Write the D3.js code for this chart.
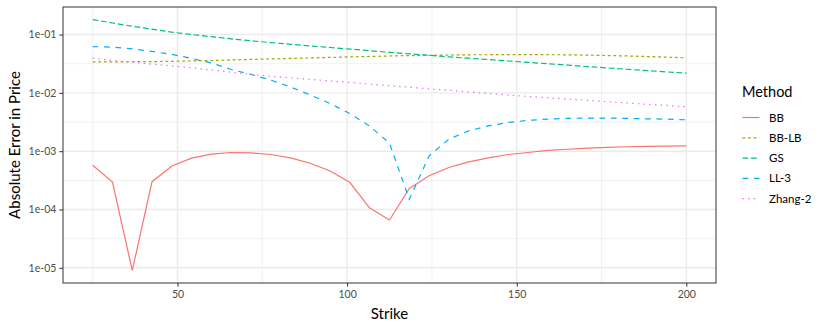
<!DOCTYPE html>
<html><head><meta charset="utf-8">
<script src="https://cdn.jsdelivr.net/npm/d3@7"></script>
<style>
body{margin:0;background:#fff;}
text{font-family:Lato,"Open Sans",sans-serif;}
</style></head>
<body><svg id="c" width="830" height="332"></svg>
<script>
const strikes = d3.range(31).map(i => 25 + i * 35 / 6);
const methods = ["BB", "BB-LB", "GS", "LL-3", "Zhang-2"];
const bb = [5.74e-4,2.96e-4,9.0e-6,3.0e-4,5.58e-4,7.58e-4,8.88e-4,9.5e-4,9.35e-4,8.77e-4,7.67e-4,6.22e-4,4.58e-4,2.90e-4,1.06e-4,6.59e-5,2.29e-4,3.79e-4,5.25e-4,6.55e-4,7.67e-4,8.77e-4,9.5e-4,1.03e-3,1.08e-3,1.13e-3,1.16e-3,1.19e-3,1.21e-3,1.22e-3,1.23e-3];
const bblb = [0.0339,0.0340,0.0342,0.0344,0.0347,0.0353,0.0359,0.0366,0.0375,0.0382,0.0390,0.0397,0.0406,0.0414,0.0422,0.0429,0.0436,0.0441,0.0446,0.0450,0.0451,0.0453,0.0453,0.0451,0.0450,0.0444,0.0437,0.0430,0.0420,0.0410,0.0399];
const gs = [0.181,0.158,0.139,0.124,0.110,0.100,0.0920,0.0843,0.0782,0.0728,0.0681,0.0639,0.0600,0.0564,0.0529,0.0496,0.0468,0.0441,0.0415,0.0393,0.0372,0.0352,0.0334,0.0316,0.0299,0.0283,0.0268,0.0254,0.0241,0.0229,0.0218];
const ll3 = [0.0622,0.0607,0.0568,0.0514,0.0457,0.0390,0.0326,0.0252,0.0207,0.0166,0.0126,9.19e-3,6.56e-3,4.42e-3,2.69e-3,1.37e-3,1.49e-4,8.30e-4,1.61e-3,2.23e-3,2.72e-3,3.12e-3,3.37e-3,3.55e-3,3.65e-3,3.70e-3,3.70e-3,3.65e-3,3.59e-3,3.55e-3,3.45e-3];
const zhang = [0.0393,0.0359,0.0334,0.0311,0.0291,0.0269,0.0247,0.0226,0.0208,0.0193,0.0181,0.0170,0.0160,0.0151,0.0141,0.0133,0.0125,0.0117,0.0111,0.0104,9.79e-3,9.19e-3,8.69e-3,8.26e-3,7.84e-3,7.45e-3,7.08e-3,6.72e-3,6.38e-3,6.08e-3,5.78e-3];
const xTicks = [50, 100, 150, 200];
const xMinor = [25, 75, 125, 175];
const yTicks = [1e-1, 1e-2, 1e-3, 1e-4, 1e-5];
const yTickLabels = ["1e-01", "1e-02", "1e-03", "1e-04", "1e-05"];
const yMinor = [Math.pow(10,-1.5), Math.pow(10,-2.5), Math.pow(10,-3.5), Math.pow(10,-4.5)];

const series = [bb, bblb, gs, ll3, zhang];
const colors = ["#F8766D", "#A3A500", "#00BF7D", "#00B0F6", "#E76BF3"];
const dashes = [null, "2.8,2.8", "5.7,2.8", "5.7,5.7", "1.4,4.3"];

const L = 63, R = 716, T = 7, B = 283;
const svg = d3.select("#c");

const xs = d3.extent(strikes);
const xpad = (xs[1] - xs[0]) * 0.05;
const x = d3.scaleLinear().domain([xs[0] - xpad, xs[1] + xpad]).range([L, R]);
const all = series.flat();
const lmin = Math.log10(d3.min(all)), lmax = Math.log10(d3.max(all));
const lpad = (lmax - lmin) * 0.05;
const y = d3.scaleLog().domain([Math.pow(10, lmin - lpad), Math.pow(10, lmax + lpad)]).range([B, T]);

const g = svg.append("g");
g.selectAll(".xm").data(xMinor).join("line")
  .attr("x1", d => x(d)).attr("x2", d => x(d)).attr("y1", T).attr("y2", B)
  .attr("stroke", "#EBEBEB").attr("stroke-width", 0.7);
g.selectAll(".ym").data(yMinor).join("line")
  .attr("y1", d => y(d)).attr("y2", d => y(d)).attr("x1", L).attr("x2", R)
  .attr("stroke", "#EBEBEB").attr("stroke-width", 0.7);
g.selectAll(".xM").data(xTicks).join("line")
  .attr("x1", d => x(d)).attr("x2", d => x(d)).attr("y1", T).attr("y2", B)
  .attr("stroke", "#EBEBEB").attr("stroke-width", 1.4);
g.selectAll(".yM").data(yTicks).join("line")
  .attr("y1", d => y(d)).attr("y2", d => y(d)).attr("x1", L).attr("x2", R)
  .attr("stroke", "#EBEBEB").attr("stroke-width", 1.4);

const line = d3.line().x((d, i) => x(strikes[i])).y(d => y(d));
series.forEach((s, k) => {
  svg.append("path").datum(s).attr("d", line)
    .attr("fill", "none").attr("stroke", colors[k]).attr("stroke-width", 1.2)
    .attr("stroke-dasharray", dashes[k]);
});

svg.append("rect").attr("x", L).attr("y", T).attr("width", R - L).attr("height", B - T)
  .attr("fill", "none").attr("stroke", "#333333").attr("stroke-width", 1);

const xAxis = d3.axisBottom(x).tickValues(xTicks).tickSize(3.7).tickPadding(3.5);
const xg = svg.append("g").attr("transform", `translate(0,${B})`).call(xAxis);
const yAxis = d3.axisLeft(y).tickValues(yTicks).tickFormat((d, i) => yTickLabels[i]).tickSize(3.7).tickPadding(3);
const yg = svg.append("g").attr("transform", `translate(${L},0)`).call(yAxis);
[xg, yg].forEach(a => {
  a.select(".domain").remove();
  a.selectAll(".tick line").attr("stroke", "#333333").attr("stroke-width", 1);
  a.selectAll(".tick text").attr("fill", "#4D4D4D").style("font-size", "10.5px").style("font-family", "Lato, sans-serif");
});

svg.append("text").attr("x", (L + R) / 2).attr("y", 318.5).attr("text-anchor", "middle")
  .style("font-size", "15px").attr("fill", "#000").text("Strike");
svg.append("text").attr("transform", `translate(20,${(T + B) / 2}) rotate(-90)`).attr("text-anchor", "middle")
  .style("font-size", "15px").attr("fill", "#000").text("Absolute Error in Price");

const lg = svg.append("g");
lg.append("text").attr("x", 742).attr("y", 97).style("font-size", "14.5px").attr("fill", "#000").text("Method");
methods.forEach((m, k) => {
  const cy = 117.5 + k * 20.3;
  lg.append("line").attr("x1", 742.5).attr("x2", 759.5).attr("y1", cy).attr("y2", cy)
    .attr("stroke", colors[k]).attr("stroke-width", 1.2).attr("stroke-dasharray", dashes[k]);
  lg.append("text").attr("x", 769).attr("y", cy + 4).style("font-size", "11.5px").attr("fill", "#000").text(m);
});
</script></body></html>
